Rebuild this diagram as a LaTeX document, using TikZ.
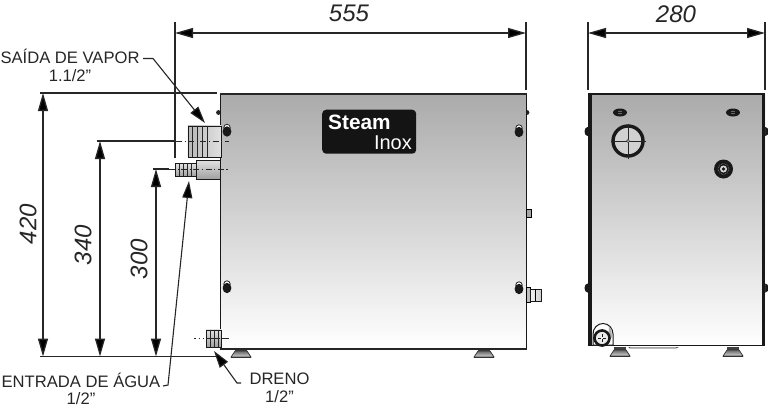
\documentclass[tikz,border=0pt]{standalone}
\usepackage{fontspec}
\setmainfont{Liberation Sans}
\usetikzlibrary{arrows.meta}
\tikzset{
  x=1pt,y=-1pt,
  dimline/.style={line width=1.3pt,black!85,{Triangle[length=18pt,width=10pt,fill=black]}-{Triangle[length=18pt,width=10pt,fill=black]}},
  extline/.style={line width=1.1pt,black!85},
  dimtxt/.style={font=\fontsize{24}{24}\selectfont\itshape,inner sep=0pt,black!85},
  lbl/.style={font=\fontsize{16.6}{18}\selectfont,inner sep=0pt,align=center,black!85},
  leader/.style={line width=1.1pt,black!85,-{Triangle[length=17pt,width=10pt,fill=black]}},
  centreline/.style={line width=.9pt,black!85,dash pattern=on 6pt off 2.5pt on 1.2pt off 2.5pt},
  cab/.style={top color=black!33,bottom color=white,draw=black!90},
  fit1/.style={draw=black!90,line width=.9pt,left color=black!30,right color=black!8},
  fit2/.style={draw=black!90,line width=.9pt,top color=black!12,bottom color=black!38},
}
\newcommand{\foot}[2]{%
  \fill[black!75] (#1-6,#2) rectangle (#1+6,#2+4);
  \draw[line width=.7pt,top color=black!60,bottom color=black!15,draw=black!80] (#1-6,#2+4) -- (#1+6,#2+4) -- (#1+10,#2+10) -- (#1-10,#2+10) -- cycle;
  \draw[line width=1.3pt,black!80] (#1-10,#2+10.5) -- (#1+10,#2+10.5);
}
\newcommand{\latchmark}[2]{%
  \draw[black!85,line width=.8pt,fill=white] (#1,#2-3) circle (3.2);
  \fill[black!90] (#1,#2+1) ellipse (4.4 and 5.2);
}
\begin{document}
\begin{tikzpicture}
\useasboundingbox (0,0) rectangle (768,408);
\fill[white] (0,0) rectangle (768,408);

% named dimension end points
\coordinate (a1) at (175,33); \coordinate (a2) at (526,33);
\coordinate (a1t) at (175,22); \coordinate (a1b) at (175,158);
\coordinate (a2t) at (526,22); \coordinate (a2b) at (526,90);
\coordinate (b1) at (588,33); \coordinate (b2) at (765,33);
\coordinate (b1t) at (588,22); \coordinate (b1b) at (588,90);
\coordinate (b2t) at (765,22); \coordinate (b2b) at (765,90);
\coordinate (h1) at (43,93); \coordinate (h2) at (43,356.5);
\coordinate (i1) at (100,141); \coordinate (i2) at (100,356.5);
\coordinate (j1) at (156,169); \coordinate (j2) at (156,356.5);
\coordinate (e1) at (40,93); \coordinate (e1r) at (217,93);
\coordinate (e2) at (97,141); \coordinate (e2r) at (176,141);
\coordinate (e3) at (153,169); \coordinate (e3r) at (169,169);
\coordinate (e4) at (40,356.5); \coordinate (e4r) at (216,356.5);

% main cabinet
\foot{241}{347}
\foot{484}{347}
\draw[line width=.8pt,black!70,fill=black!10] (262,347) -- (274,347) .. controls (272,350) and (264,350) .. (262,347);
\fill[black!85] (218.5,112.5) circle (2.4);
\fill[black!85] (527,112.5) circle (2.4);
\node[cab,line width=1pt,minimum width=306pt,minimum height=254pt,inner sep=0pt,anchor=north west] (main) at (220,94) {};
\draw[line width=1.8pt,black!85] (main.north west) -- (main.north east);
\draw[line width=1.4pt,black!85] (main.south west) -- (main.south east);

% logo
\node[fill=black!92,rounded corners=4pt,minimum width=94pt,minimum height=44pt,inner sep=0pt,anchor=north west] (logo) at (322,109.5) {};
\node[text=white,font=\fontsize{20.8}{20.8}\selectfont\bfseries,inner sep=0pt,anchor=base west] (steam) at (328,129) {Steam};
\node[text=white,font=\fontsize{20}{20}\selectfont,inner sep=0pt,anchor=base east] (inox) at (412,149) {Inox};

% latches, main
\latchmark{227}{130.5}
\latchmark{519}{131}
\latchmark{227}{287}
\latchmark{519}{288}

% steam outlet
\node[fit1,left color=black!28,right color=black!12,minimum width=33pt,minimum height=31pt,inner sep=0pt,anchor=north west] (steamout) at (187.5,125.5) {};
\foreach \x in {192,197,202,207} \draw[line width=.9pt,black!85] (\x,125.5) -- (\x,156.5);

% water inlet
\node[fit2,minimum width=24pt,minimum height=19pt,inner sep=0pt,anchor=north west] (waterin) at (196,160) {};
\node[fit2,minimum width=21pt,minimum height=13pt,inner sep=0pt,anchor=north west] (barb) at (175,163) {};
\foreach \x in {179,183,187,191} \draw[line width=.9pt,black!85] (\x,163) -- (\x,176);

% centre lines
\draw[centreline] (e2r) -- (229,141);
\draw[centreline] (e3r) -- (229,169);

% drain
\node[fit2,minimum width=15pt,minimum height=17pt,inner sep=0pt,anchor=north west] (drain) at (206,329.5) {};
\foreach \x in {210,214,218} \draw[line width=.8pt,black!85] (\x,329.5) -- (\x,346.5);
\draw[line width=.8pt,black!85,dash pattern=on 1.5pt off 3pt] (194,338) -- (204,338);
\draw[line width=.8pt,black!85] (206,338) -- (220,338);
\draw[line width=.8pt,black!85] (222,338) -- (229,338);

% right fittings main
\draw[line width=.9pt,fill=black!35] (526,209) rectangle (531,217);
\draw[line width=.9pt,fill=black!25] (526,287) rectangle (530,302);
\draw[fit1,left color=black!5,right color=black!20] (530,289) rectangle (541,301);
\draw[line width=.9pt] (535,289) -- (535,301);

% side view
\foot{620}{346}
\foot{733}{346}
\draw[line width=.8pt,black!70,fill=black!15] (628,346) -- (680,346) -- (676,348) -- (630,348) -- cycle;
\foreach \y in {131.5,288}{
  \fill[black!90] (587.5,\y) ellipse (3 and 4.5);
  \fill[black!90] (765.5,\y) ellipse (3 and 4.5);
}
\node[cab,draw=none,minimum width=176pt,minimum height=252pt,inner sep=0pt,anchor=north west] (side) at (589,94) {};
\fill[black!90] (588,93) rectangle (591.5,346);
\fill[black!90] (761.5,93) rectangle (765,346);
\draw[line width=1.7pt,black!90] (588,93.8) -- (765,93.8);
\draw[line width=1.2pt,black!90] (588,345.5) -- (765,345.5);
\foreach \x in {620,733}{
  \fill[black!90] (\x,112.5) ellipse (7 and 4);
  \fill[black!60] (\x,112.5) ellipse (2.5 and 1.8);
  \draw[black!90,line width=.6pt] (\x-7,112.5) -- (\x+7,112.5);
}
% steam port
\node[circle,draw=black!90,line width=3.4pt,fill=black!18,minimum size=30pt,inner sep=0pt] (port) at (628,141) {};
\draw[line width=.9pt,black!85] (628,123.5) -- (628,158.5) (610.5,141) -- (645.5,141);
\draw[black!85,line width=.7pt,fill=white] (628,141) circle (1.5);
% water port
\node[circle,fill=black!90,minimum size=19pt,inner sep=0pt] (wport) at (723.5,169) {};
\draw[white!75!black,line width=.5pt,densely dotted] (wport.center) circle (5.5);
\fill[white!85!black] (wport.center) circle (3.5);
\fill[black!90] (wport.center) circle (1.8);
% drain port side
\draw[line width=1pt,black!90,fill=white] (593,345) -- (593,334) arc (180:360:10 and 10.5) -- (613,345) -- cycle;
\fill[black!30] (609,326) -- (611.5,330) -- (612,338) -- (608.5,335) -- cycle;
\node[circle,draw=black!90,line width=2.6pt,fill=black!8,minimum size=15pt,inner sep=0pt] (dport) at (602,338) {};
\draw[line width=.8pt,black!90,densely dashed] (dport.north) -- (dport.south) (dport.west) -- (dport.east);

% extension lines
\draw[extline] (a1t) -- (a1b);
\draw[extline] (a2t) -- (a2b);
\draw[extline] (b1t) -- (b1b);
\draw[extline] (b2t) -- (b2b);
\draw[extline] (e1) -- (e1r);
\draw[extline] (e2) -- (e2r);
\draw[extline] (e3) -- (e3r);
\draw[extline] (e4) -- (e4r);

% dimension lines
\draw[dimline] (a1) -- (a2);
\draw[dimline] (b1) -- (b2);
\draw[dimline] (h1) -- (h2);
\draw[dimline] (i1) -- (i2);
\draw[dimline] (j1) -- (j2);

% dimension text
\node[dimtxt] (t555) at (349,13) {555};
\node[dimtxt] (t280) at (676,14) {280};
\node[dimtxt,rotate=90] (t420) at (28,224) {420};
\node[dimtxt,rotate=90] (t340) at (83,245) {340};
\node[dimtxt,rotate=90] (t300) at (139,259) {300};

% labels and leaders
\node[lbl] (lvap) at (70,65) {SAÍDA DE VAPOR\\1.1/2”};
\coordinate (v0) at (143,58.5); \coordinate (v1) at (153,58.5); \coordinate (v2) at (205,123);
\draw[leader] (v0) -- (v1) -- (v2);
\node[lbl,font=\fontsize{16.6}{17}\selectfont] (lwat) at (81,388.5) {ENTRADA DE ÁGUA\\1/2”};
\coordinate (w0) at (163,386); \coordinate (w1) at (168,385); \coordinate (w2) at (189,181);
\draw[leader] (w0) -- (w1) -- (w2);
\node[lbl] (ldre) at (279.5,388) {DRENO\\1/2”};
\coordinate (d0) at (241,383); \coordinate (d1) at (237,383); \coordinate (d2) at (214,351);
\draw[leader] (d0) -- (d1) -- (d2);
\end{tikzpicture}
\end{document}
